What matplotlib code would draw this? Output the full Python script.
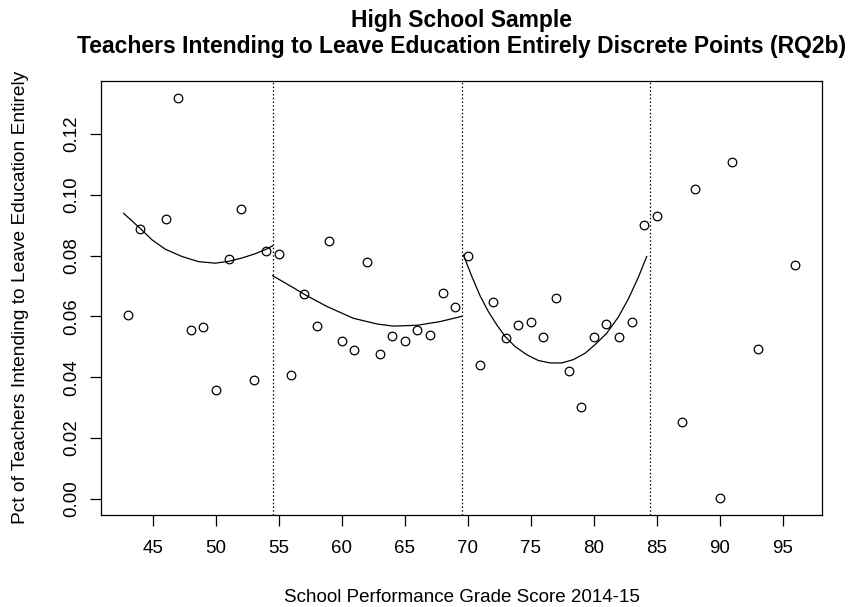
import matplotlib
matplotlib.use("Agg")
import matplotlib.pyplot as plt

plt.rcParams['font.family'] = ['Liberation Sans', 'DejaVu Sans']

# binned school performance scores and share of teachers leaving education
score = [43, 44, 46, 47, 48, 49, 50, 51, 52, 53, 54,
         55, 56, 57, 58, 59, 60, 61, 62, 63, 64, 65, 66, 67, 68, 69,
         70, 71, 72, 73, 74, 75, 76, 77, 78, 79, 80, 81, 82, 83, 84,
         85, 87, 88, 90, 91, 93, 96]
pct_leave = [0.0606, 0.0888, 0.0920, 0.1318, 0.0556, 0.0564, 0.0358, 0.0788, 0.0954, 0.0390, 0.0816,
             0.0805, 0.0409, 0.0673, 0.0568, 0.0848, 0.0520, 0.0488, 0.0780, 0.0477, 0.0536, 0.0520,
             0.0555, 0.0540, 0.0678, 0.0630,
             0.0800, 0.0441, 0.0646, 0.0529, 0.0571, 0.0583, 0.0533, 0.0662, 0.0421, 0.0303, 0.0533,
             0.0576, 0.0533, 0.0583, 0.0900,
             0.0931, 0.0252, 0.1018, 0.0002, 0.1109, 0.0493, 0.0768]

# fitted quadratic trend within each grade band
fit1_x = [42.67, 44.05, 44.92, 45.98, 47.3, 48.62, 49.94, 51.0, 52.06, 53.12, 54.05, 54.5]
fit1_y = [0.0939, 0.0887, 0.0852, 0.0821, 0.0797, 0.0780, 0.0775, 0.0781, 0.0792, 0.0806, 0.0822, 0.0832]
fit2_x = [54.5, 56.2, 57.0, 58.8, 60.9, 62.8, 64.1, 66.0, 67.8, 69.5]
fit2_y = [0.0734, 0.0693, 0.0673, 0.0633, 0.0594, 0.0575, 0.0568, 0.0571, 0.0583, 0.0600]
fit3_x = [69.65, 70.32, 70.98, 71.63, 72.3, 72.96, 73.75, 74.68, 75.6, 76.53, 77.46,
          78.38, 79.31, 80.1, 81.03, 81.95, 82.75, 83.54, 84.2]
fit3_y = [0.0802, 0.0731, 0.0667, 0.0616, 0.0572, 0.0534, 0.0501, 0.0474, 0.0455, 0.0447, 0.0447,
          0.0458, 0.0479, 0.0507, 0.0545, 0.0598, 0.0658, 0.0729, 0.0797]

cutoffs = [54.5, 69.5, 84.5]

fig = plt.figure(figsize=(8.57, 6.07), dpi=100)
ax = fig.add_axes([0.1179, 0.1516, 0.8413, 0.7155])

ax.plot(score, pct_leave, 'o', mfc='none', mec='black', ms=6.2, mew=0.9)
for fx, fy in [(fit1_x, fit1_y), (fit2_x, fit2_y), (fit3_x, fit3_y)]:
    ax.plot(fx, fy, color='black', lw=0.9)
for c in cutoffs:
    ax.axvline(c, color='black', lw=0.9, ls=(0, (1.2, 1.8)))

ax.set_xlim(40.88, 98.12)
ax.set_ylim(-0.00528, 0.1375)
ax.set_xticks(range(45, 100, 5))
ax.set_yticks([0.00, 0.02, 0.04, 0.06, 0.08, 0.10, 0.12])
ax.set_yticklabels(['0.00', '0.02', '0.04', '0.06', '0.08', '0.10', '0.12'],
                   rotation=90, va='center')
ax.tick_params(length=7.8, width=0.9, labelsize=13.5)
ax.tick_params(axis='x', pad=10.5)
ax.tick_params(axis='y', pad=7)
for s in ax.spines.values():
    s.set_linewidth(0.9)

ax.set_xlabel('School Performance Grade Score 2014-15', fontsize=13.5, va='center')
ax.xaxis.set_label_coords(0.5, -0.191)
ax.set_ylabel('Pct of Teachers Intending to Leave Education Entirely', fontsize=13.8, va='center')
ax.yaxis.set_label_coords(-0.1123, 0.5)

title_x = 461.5 / 857
fig.text(title_x, 1 - 21 / 607, 'High School Sample',
         ha='center', va='center', fontsize=16.5, fontweight='bold')
fig.text(title_x, 1 - 47 / 607,
         'Teachers Intending to Leave Education Entirely Discrete Points (RQ2b)',
         ha='center', va='center', fontsize=16.5, fontweight='bold')

fig.savefig('out.png', dpi=100)
